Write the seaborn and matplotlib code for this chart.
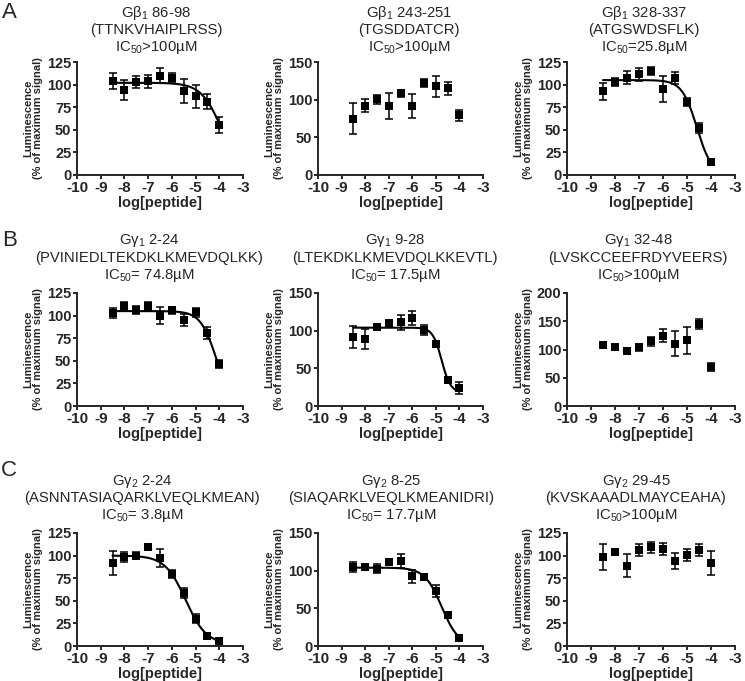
import numpy as np
import pandas as pd
import matplotlib
matplotlib.use("Agg")
import matplotlib.pyplot as plt
import seaborn as sns

# peptide concentrations (log M), same for every panel
log_conc = [-8.5, -8.0, -7.5, -7.0, -6.5, -6.0, -5.5, -5.0, -4.5, -4.0]

# row A: Gbeta1 peptides
gb1_86_mean = [104, 94, 103, 103.5, 110, 107.5, 93, 87, 81, 55]
gb1_86_sem = [9, 11, 7, 7, 8, 5, 13, 13, 8.5, 9]
gb1_243_mean = [75, 92, 100.5, 92, 108.5, 92, 122, 117.5, 115, 79]
gb1_243_sem = [20, 9, 6, 17.5, 4.5, 16, 5, 13.5, 9, 7]
gb1_328_mean = [92.5, 102.5, 107.5, 111.5, 115, 95, 107, 81, 52, 14]
gb1_328_sem = [9, 4.5, 7, 7, 4.5, 14, 6.5, 4.5, 5.5, 1.5]

# row B: Ggamma1 peptides
gg1_2_mean = [103, 111, 106.5, 111, 100, 106, 95.5, 103.5, 80.5, 46.5]
gg1_2_sem = [5.5, 4, 4.5, 4.5, 9, 4, 6.5, 5, 6.5, 4]
gg1_9_mean = [92, 89, 105, 110.5, 111, 117, 101, 82, 35, 24]
gg1_9_sem = [14.5, 13, 3.5, 2.7, 10, 9, 6.5, 3, 2, 8]
gg1_32_mean = [108.5, 104, 98, 104, 114.5, 124.5, 110.5, 116, 145, 69]
gg1_32_sem = [4, 4.5, 4, 6, 7.5, 11, 22, 24.5, 9, 6.5]

# row C: Ggamma2 peptides
gg2_2_mean = [92, 98.5, 100, 110, 97.5, 79.5, 59, 30, 11.5, 5.5]
gg2_2_sem = [13, 5.5, 4, 2, 10, 4.5, 5.5, 5, 2, 1.5]
gg2_8_mean = [104.5, 104.5, 102.5, 111.5, 112.5, 92.5, 91, 73.5, 40.5, 10]
gg2_8_sem = [6.5, 4, 6, 3.5, 9.5, 8.5, 3, 8, 3.8, 1.3]
gg2_29_mean = [98.5, 104, 89, 106, 109, 107, 94, 101, 106, 92]
gg2_29_sem = [14.5, 2.7, 12.5, 6.5, 5.7, 6.5, 9, 6.5, 6.5, 13]

# sigmoidal fits (top, bottom, logIC50, hill); None = no fit drawn
fit_gb1_86 = (102, 0, -3.9, 1.0)
fit_gb1_328 = (105, 0, -4.588, 1.4)
fit_gg1_2 = (105, 0, -4.126, 1.3)
fit_gg1_9 = (104, 18, -4.757, 2.3)
fit_gg2_2 = (100, 2, -5.42, 1.0)
fit_gg2_8 = (104, 0, -4.752, 1.2)

panel_names = [
    ["G\u03b2$_1$ 86-98", "G\u03b2$_1$ 243-251", "G\u03b2$_1$ 328-337"],
    ["G\u03b3$_1$ 2-24", "G\u03b3$_1$ 9-28", "G\u03b3$_1$ 32-48"],
    ["G\u03b3$_2$ 2-24", "G\u03b3$_2$ 8-25", "G\u03b3$_2$ 29-45"],
]
panel_seqs = [
    ["(TTNKVHAIPLRSS)", "(TGSDDATCR)", "(ATGSWDSFLK)"],
    ["(PVINIEDLTEKDKLKMEVDQLKK)", "(LTEKDKLKMEVDQLKKEVTL)", "(LVSKCCEEFRDYVEERS)"],
    ["(ASNNTASIAQARKLVEQLKMEAN)", "(SIAQARKLVEQLKMEANIDRI)", "(KVSKAAADLMAYCEAHA)"],
]
panel_ic50 = [
    ["IC$_{50}$>100\u00b5M", "IC$_{50}$>100\u00b5M", "IC$_{50}$=25.8\u00b5M"],
    ["IC$_{50}$= 74.8\u00b5M", "IC$_{50}$= 17.5\u00b5M", "IC$_{50}$>100\u00b5M"],
    ["IC$_{50}$= 3.8\u00b5M", "IC$_{50}$= 17.7\u00b5M", "IC$_{50}$>100\u00b5M"],
]
panel_means = [
    [gb1_86_mean, gb1_243_mean, gb1_328_mean],
    [gg1_2_mean, gg1_9_mean, gg1_32_mean],
    [gg2_2_mean, gg2_8_mean, gg2_29_mean],
]
panel_sems = [
    [gb1_86_sem, gb1_243_sem, gb1_328_sem],
    [gg1_2_sem, gg1_9_sem, gg1_32_sem],
    [gg2_2_sem, gg2_8_sem, gg2_29_sem],
]
panel_fits = [
    [fit_gb1_86, None, fit_gb1_328],
    [fit_gg1_2, fit_gg1_9, None],
    [fit_gg2_2, fit_gg2_8, None],
]
panel_ymax = [[125, 150, 125], [125, 150, 200], [125, 150, 125]]
row_letters = ["A", "B", "C"]

sns.set_style("ticks")
plt.rcParams["font.family"] = ["Liberation Sans", "DejaVu Sans"]
plt.rcParams["mathtext.fontset"] = "custom"
plt.rcParams["mathtext.rm"] = "Liberation Sans"
plt.rcParams["mathtext.it"] = "Liberation Sans:italic"
plt.rcParams["mathtext.bf"] = "Liberation Sans:bold"

W, H = 745, 681
fig = plt.figure(figsize=(W / 100, H / 100), dpi=100)

# layout in pixels
col_left = [77, 318, 567]
col_width = [166, 165, 168]
row_top = [62, 293, 533]
row_height = [113, 113, 113]
title_x = [[156, 409, 644], [149, 395, 638], [142, 391, 636]]
title_y = [[13, 30, 47], [240, 258, 275], [481, 498, 515]]
letter_pos = [(9, 12), (10, 241), (9, 470)]


def hill(x, top, bottom, logic50, slope):
    return bottom + (top - bottom) / (1 + 10 ** ((x - logic50) * slope))


for r in range(3):
    fig.text(letter_pos[r][0] / W, 1 - letter_pos[r][1] / H, row_letters[r],
             fontsize=16, ha="center", va="center")
    for c in range(3):
        left = col_left[c] / W
        bottom = 1 - (row_top[r] + row_height[r]) / H
        ax = fig.add_axes([left, bottom, col_width[c] / W, row_height[r] / H])

        df = pd.DataFrame({"x": log_conc, "y": panel_means[r][c], "sem": panel_sems[r][c]})
        ax.errorbar(df["x"], df["y"], yerr=df["sem"], fmt="none", ecolor="black",
                    elinewidth=1.1, capsize=3, capthick=1.1, clip_on=False, zorder=3)
        sns.scatterplot(data=df, x="x", y="y", marker="s", s=28, color="black",
                        edgecolor="black", linewidth=0, ax=ax, clip_on=False, zorder=4)

        fit = panel_fits[r][c]
        if fit is not None:
            xs = np.linspace(log_conc[0], log_conc[-1], 200)
            curve = pd.DataFrame({"x": xs, "y": hill(xs, *fit)})
            sns.lineplot(data=curve, x="x", y="y", color="black", linewidth=1.5,
                         ax=ax, zorder=2)

        ymax = panel_ymax[r][c]
        step = 25 if ymax == 125 else 50
        ax.set_xlim(-10, -3)
        ax.set_ylim(0, ymax)
        ax.set_xticks(range(-10, -2))
        ax.set_yticks(range(0, ymax + 1, step))
        ax.set_xticklabels([str(v) for v in range(-10, -2)])
        sns.despine(ax=ax)
        for s in ["left", "bottom"]:
            ax.spines[s].set_linewidth(1.4)
        ax.tick_params(direction="out", length=3, width=1.4, pad=1)
        ax.tick_params(axis="x", labelsize=11)
        ax.tick_params(axis="y", labelsize=10.5)
        for lab in ax.get_xticklabels() + ax.get_yticklabels():
            lab.set_fontweight("bold")

        ax.set_xlabel("log[peptide]", fontsize=10.5, fontweight="bold")
        ax.xaxis.set_label_coords(0.5, -28 / row_height[r])
        ax.xaxis.label.set_va("center")
        ax.set_ylabel("Luminescence\n(% of maximum signal)", fontsize=8,
                      fontweight="bold", linespacing=0.95)
        ax.yaxis.set_label_coords(-44 / col_width[c], 0.5)
        ax.yaxis.label.set_va("center")

        lines = [panel_names[r][c], panel_seqs[r][c], panel_ic50[r][c]]
        for k, txt in enumerate(lines):
            fig.text(title_x[r][c] / W, 1 - title_y[r][k] / H, txt,
                     fontsize=10.7, ha="center", va="center")

fig.savefig("out.png", dpi=100)
